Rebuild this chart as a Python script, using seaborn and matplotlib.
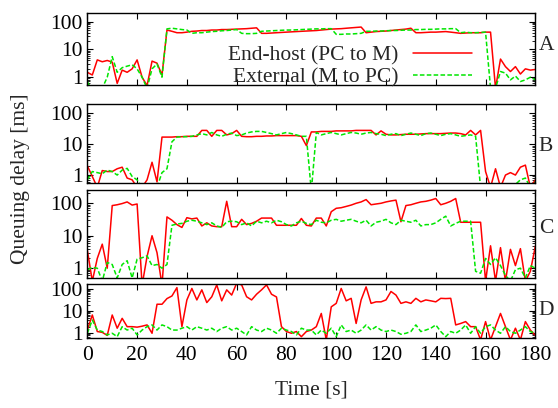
import matplotlib
matplotlib.use("Agg")
import matplotlib.pyplot as plt
import numpy as np
import pandas as pd
import seaborn as sns
from matplotlib.ticker import FixedLocator, LogLocator, NullFormatter

sns.set_theme(style="ticks")
plt.rcParams["font.family"] = ["Liberation Serif", "DejaVu Serif"]
FS = 15.5
plt.rcParams["font.size"] = FS

# time axis: one sample every 2 s
time_s = np.arange(0, 181, 2)

# panel A
host_a = [1.5, 1.2, 4.2, 3.6, 4.0, 3.5, 0.6, 1.8, 1.5, 2.0,
          4.2, 1.0, 0.5, 3.8, 3.2, 1.2, 50, 45, 40, 40,
          42, 45, 46, 48, 48, 50, 50, 52, 52, 53,
          54, 55, 56, 58, 60, 38, 38, 39, 40, 41,
          42, 43, 44, 45, 46, 47, 48, 50, 52, 54,
          55, 56, 58, 60, 62, 64, 40, 42, 44, 45,
          46, 48, 50, 52, 54, 58, 40, 40, 41, 42,
          42, 43, 44, 42, 40, 38, 39, 40, 40, 40,
          42, 42, 0.4, 4.5, 2.4, 1.6, 2.4, 1.3, 2.0, 1.8,
          1.9]
ext_a = [0.7, 0.3, 0.3, 0.4, 1.0, 5.5, 1.5, 2.2, 2.5, 2.8,
         2.0, 1.0, 0.4, 2.0, 3.0, 1.0, 55, 58, 55, 52,
         50, 38, 40, 40, 42, 44, 45, 47, 48, 50,
         52, 38, 37, 37, 38, 45, 46, 47, 48, 49,
         50, 50, 51, 52, 53, 54, 55, 55, 56, 56,
         35, 35, 36, 36, 37, 38, 45, 45, 46, 46,
         47, 48, 48, 49, 50, 50, 52, 52, 53, 53,
         54, 55, 55, 56, 56, 40, 42, 40, 40, 41,
         42, 0.4, 0.4, 1.6, 1.4, 0.8, 1.1, 0.7, 0.8, 1.0,
         0.8]

# panel B
host_b = [2.0, 0.9, 0.4, 1.4, 1.3, 1.3, 1.6, 1.8, 0.8, 0.7,
          0.4, 0.4, 0.7, 2.6, 0.6, 17, 17, 17, 17.5, 17.5,
          18, 18, 18, 28, 28, 18, 28, 28, 20, 22,
          28, 18, 17.5, 17.5, 18, 18, 18.5, 18.5, 19, 19,
          19, 19, 19, 18, 9, 25, 25, 26, 26, 26,
          27, 27, 27, 27, 28, 28, 28, 28, 20, 27,
          21, 20, 20, 20.5, 21, 21, 21, 21.5, 22, 22,
          22, 22, 22.5, 23, 23, 22, 20, 28, 20, 28,
          1.3, 0.4, 1.6, 0.4, 1.0, 1.2, 1.0, 1.8, 2.1, 0.4,
          0.7]
ext_b = [0.7, 1.3, 1.2, 1.1, 1.45, 1.3, 1.0, 1.45, 1.65, 0.9,
         0.7, 0.4, 0.4, 0.4, 0.4, 1.2, 1.6, 12, 17, 17.5,
         17.5, 18, 20, 22, 20, 24, 20, 18, 21, 23,
         19, 20, 23, 25, 26, 26, 24, 22, 20, 22,
         24, 22, 20, 18, 18, 0.3, 24, 20, 22, 24,
         22, 20, 22, 24, 23, 21, 23, 24, 22, 21,
         19, 21, 22, 19, 21, 23, 21, 19, 22, 23,
         21, 19, 21, 22, 20, 18, 19, 20, 18, 0.4,
         0.4, 0.4, 0.4, 0.4, 0.4, 0.4, 0.5, 0.7, 0.8, 0.4,
         0.6]

# panel C
host_c = [3.6, 0.4, 2.0, 5.5, 1.0, 85, 90, 98, 110, 88,
          95, 0.3, 2.3, 10, 3.0, 0.3, 38, 30, 22, 18,
          36, 33, 35, 20, 25, 20, 19, 19, 115, 19,
          19, 32, 22, 24, 28, 35, 35, 35, 21, 21,
          21, 21, 21, 34, 21, 20, 35, 35, 20, 55,
          70, 73, 80, 88, 100, 110, 130, 90, 95, 100,
          110, 118, 125, 27, 85, 90, 100, 110, 115, 125,
          140, 90, 100, 115, 140, 26, 26, 26, 26, 26,
          0.4, 4.9, 0.4, 4.3, 0.4, 3.8, 1.2, 4.0, 0.4, 0.8,
          4.8]
ext_c = [0.9, 1.05, 1.0, 0.4, 1.5, 1.3, 0.5, 1.3, 1.7, 0.5,
         1.9, 2.1, 2.4, 1.2, 1.3, 1.0, 1.3, 21, 23, 24,
         28, 30, 28, 25, 22, 25, 20, 18, 27, 28,
         27, 22, 25, 20, 28, 25, 28, 25, 30, 27,
         22, 20, 25, 28, 24, 22, 30, 26, 25, 30,
         32, 28, 30, 32, 28, 25, 30, 20, 26, 28,
         32, 25, 22, 30, 28, 26, 30, 20, 22, 22,
         25, 32, 40, 20, 24, 28, 28, 28, 0.8, 0.7,
         2.0, 1.3, 2.1, 1.2, 0.6, 0.4, 0.9, 1.0, 0.5, 1.2,
         1.0]

# panel D
host_d = [1.4, 6.8, 1.2, 1.1, 0.8, 6.8, 1.7, 4.8, 2.0, 2.0,
          1.9, 2.1, 2.4, 1.0, 21, 21, 38, 50, 120, 2.0,
          33, 110, 33, 95, 25, 46, 160, 30, 95, 55,
          190, 160, 46, 33, 60, 95, 160, 60, 45, 2.0,
          1.2, 1.0, 1.2, 0.7, 1.2, 1.4, 2.0, 8, 0.5, 16,
          23, 110, 30, 39, 2.8, 33, 130, 23, 27, 27,
          33, 80, 55, 23, 27, 23, 39, 27, 33, 30,
          27, 39, 38, 39, 2.4, 2.8, 3.4, 2.0, 2.0, 0.5,
          3.4, 0.5, 2.0, 8, 2.0, 0.5, 1.7, 0.5, 3.4, 1.4,
          0.8]
ext_d = [1.0, 4.0, 1.4, 1.2, 0.84, 1.0, 0.7, 2.0, 1.4, 1.7,
         0.84, 1.4, 2.0, 2.4, 1.4, 2.4, 2.0, 1.4, 1.4, 1.7,
         2.0, 1.4, 2.0, 1.7, 1.4, 1.7, 1.2, 1.7, 2.0, 1.4,
         1.7, 1.2, 0.84, 2.0, 1.4, 1.2, 1.7, 1.4, 1.0, 1.7,
         1.4, 1.2, 0.84, 1.7, 1.4, 1.4, 0.84, 1.4, 1.0, 1.7,
         0.7, 2.4, 1.2, 1.4, 1.0, 1.4, 2.4, 1.4, 2.0, 1.4,
         1.2, 1.4, 1.2, 0.9, 1.0, 1.2, 2.4, 1.2, 1.4, 1.7,
         2.4, 1.2, 0.7, 1.2, 1.0, 1.4, 2.4, 1.0, 2.0, 1.0,
         2.0, 2.4, 1.4, 1.0, 2.0, 1.2, 1.0, 1.4, 2.0, 1.2,
         1.0]

panel_names = ["A", "B", "C", "D"]
host_series = [host_a, host_b, host_c, host_d]
ext_series = [ext_a, ext_b, ext_c, ext_d]
y_limits = [(0.51, 210), (0.54, 196), (0.51, 257), (0.61, 170)]
x_ticks = [0, 20, 40, 60, 80, 100, 120, 140, 160, 180]
y_ticks = [1, 10, 100]

# axes boxes in figure fractions (left, bottom, width, height)
boxes = [(0.1565, 0.7909, 0.8029, 0.1779),
         (0.1565, 0.5507, 0.8029, 0.1936),
         (0.1565, 0.3194, 0.8029, 0.2150),
         (0.1565, 0.1716, 0.8029, 0.1316)]
letter_y = [0.555, 0.46, 0.563, 0.52]

RED = "#ff0000"
GREEN = "#00e600"

fig = plt.figure(figsize=(5.58, 4.08), dpi=100)

for i, name in enumerate(panel_names):
    ax = fig.add_axes(boxes[i])
    df = pd.DataFrame({"time": time_s, "host": host_series[i], "ext": ext_series[i]})
    sns.lineplot(data=df, x="time", y="host", ax=ax, color=RED, lw=1.1,
                 estimator=None, label="End-host (PC to M)")
    sns.lineplot(data=df, x="time", y="ext", ax=ax, color=GREEN, lw=1.1,
                 linestyle=(0, (3, 1.5)), estimator=None, label="External (M to PC)")

    ax.set_yscale("log")
    ax.set_xlim(0, 180)
    ax.set_ylim(*y_limits[i])
    ax.yaxis.set_major_locator(FixedLocator(y_ticks))
    ax.set_yticklabels([str(v) for v in y_ticks])
    ax.yaxis.set_minor_locator(LogLocator(base=10, subs=np.arange(2, 10)))
    ax.yaxis.set_minor_formatter(NullFormatter())
    ax.set_xticks(x_ticks)
    if i == 3:
        ax.set_xticklabels([str(v) for v in x_ticks])
    else:
        ax.set_xticklabels([])
    ax.set_xlabel("")
    ax.set_ylabel("")
    ax.grid(False)
    ax.tick_params(which="both", direction="in", top=True, right=True,
                   colors="black", labelsize=FS)
    ax.tick_params(which="major", length=4, width=0.8)
    ax.tick_params(which="minor", length=2, width=0.6)
    ax.tick_params(axis="y", pad=3.5)
    ax.tick_params(axis="x", pad=5.5)
    for sp in ax.spines.values():
        sp.set_linewidth(1.0)
        sp.set_color("black")

    ax.text(1.008, letter_y[i], name, transform=ax.transAxes,
            ha="left", va="center", fontsize=FS)

    if i == 0:
        ax.legend(loc="center right", bbox_to_anchor=(0.859, 0.26),
                  frameon=False, markerfirst=False, handlelength=2.74,
                  handletextpad=0.68, labelspacing=0.1, borderpad=0,
                  borderaxespad=0, fontsize=FS)
    else:
        leg = ax.get_legend()
        if leg is not None:
            leg.remove()

fig.text(0.037, 0.5625, "Queuing delay [ms]", rotation=90,
         ha="center", va="center", fontsize=FS)
fig.text(0.558, 0.045, "Time [s]", ha="center", va="center", fontsize=FS)

fig.savefig("out.png", dpi=100)
plt.close(fig)
